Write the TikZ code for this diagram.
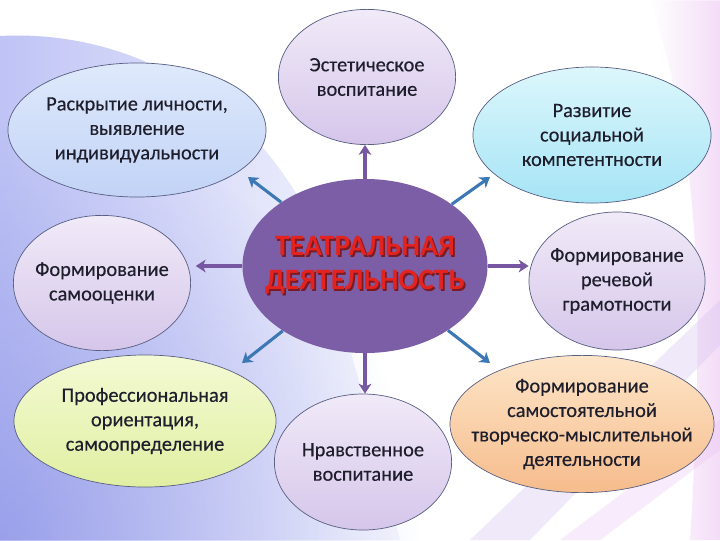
\documentclass[tikz,border=0pt]{standalone}
\usepackage{fontspec}
\setmainfont{Carlito}
\newfontfamily\bubblefont[FakeBold=0.35]{Carlito}
\usepackage{xcolor}
\usetikzlibrary{shapes,arrows,positioning,calc,arrows.meta,fadings}

\definecolor{bgblue}{HTML}{A0A7F0}
\definecolor{bgdeep}{HTML}{7C84E2}
\definecolor{bgpink}{HTML}{EBC0F2}
\definecolor{bglilac}{HTML}{D6C2F0}
\definecolor{rimline}{HTML}{585E82}
\definecolor{txtdark}{HTML}{1E1E2C}
\definecolor{lilacA}{HTML}{F1EAF8}
\definecolor{lilacB}{HTML}{D5C6EA}
\definecolor{blueA}{HTML}{DEE9FB}
\definecolor{blueB}{HTML}{C2D3F6}
\definecolor{cyanA}{HTML}{DCF7FC}
\definecolor{cyanB}{HTML}{A6E4F5}
\definecolor{limeA}{HTML}{F4FAD4}
\definecolor{limeB}{HTML}{E0EFA2}
\definecolor{peachA}{HTML}{FDE5C8}
\definecolor{peachB}{HTML}{F6BC8C}
\definecolor{corepurple}{HTML}{7B5EA5}
\definecolor{corered}{HTML}{E3231F}
\definecolor{coreshadow}{HTML}{7A1A22}
\definecolor{arrowpurple}{HTML}{7757A1}
\definecolor{arrowblue}{HTML}{3C78B4}

\pgfdeclarehorizontalshading{leftglow}{100bp}{color(0bp)=(bgblue); color(35bp)=(bgblue!55!white); color(70bp)=(bgblue!15!white); color(100bp)=(white)}
\tikzfading[name=cornerfade, inner color=transparent!0, outer color=transparent!100]

\newcommand{\redshadow}[1]{\rlap{\kern1.2pt\raisebox{-1.2pt}{\textcolor{coreshadow}{#1}}}\textcolor{corered}{#1}}

\tikzset{
  bubble/.style={ellipse, draw=rimline, line width=0.5pt, inner xsep=-0.8cm, inner ysep=-0.2cm,
    align=center, text=txtdark, font=\bubblefont\fontsize{14.5}{17.4}\selectfont},
  lilacfill/.style={top color=lilacA, bottom color=lilacB},
  bluefill/.style={top color=blueA, bottom color=blueB},
  cyanfill/.style={top color=cyanA, bottom color=cyanB},
  limefill/.style={top color=limeA, bottom color=limeB},
  peachfill/.style={top color=peachA, bottom color=peachB},
  parrow/.style={draw=arrowpurple, line width=2.2pt, -{Stealth[length=7pt,width=9pt,inset=2pt]}},
  barrow/.style={draw=arrowblue, line width=2.2pt, -{Stealth[length=7pt,width=9pt,inset=2pt]}}
}

\begin{document}
\begin{tikzpicture}[x=0.025cm, y=-0.025cm]
    % Background
    \useasboundingbox (0,0) rectangle (720,540);
    \fill[white] (0,0) rectangle (720,540);
    \shade[shading=leftglow] (0,36) .. controls (110,30) and (230,80) .. (300,200) .. controls (340,300) and (370,420) .. (400,540) -- (0,540) -- cycle;
    \fill[bgdeep, opacity=0.55, path fading=cornerfade] (0,540) circle (420);
    \fill[bgpink, opacity=0.55, path fading=west] (650,0) .. controls (700,150) and (705,300) .. (690,540) -- (720,540) -- (720,0) -- cycle;
    \fill[bglilac, opacity=0.35] (470,540) -- (720,300) -- (720,345) -- (530,540) -- cycle;
    \fill[bgpink, opacity=0.3] (560,540) -- (720,420) -- (720,450) -- (600,540) -- cycle;

    % Outer bubbles
    \node[bubble, bluefill, minimum width=6.45cm, minimum height=3.35cm] (lichnost) at (137,130) {Раскрытие личности,\\выявление\\индивидуальности};
    \node[bubble, lilacfill, minimum width=4.43cm, minimum height=3.38cm] (estetika) at (367,77) {Эстетическое\\воспитание};
    \node[bubble, cyanfill, minimum width=5.95cm, minimum height=3.4cm] (socium) at (592,135) {Развитие\\социальной\\компетентности};
    \node[bubble, lilacfill, minimum width=4.43cm, minimum height=3.38cm] (samoocenka) at (102,283) {Формирование\\самооценки};
    \node[bubble, lilacfill, minimum width=4.4cm, minimum height=3.45cm] (rech) at (617,281) {Формирование\\речевой\\грамотности};
    \node[bubble, limefill, minimum width=6.55cm, minimum height=3.3cm] (proforient) at (145,421) {Профессиональная\\ориентация,\\самоопределение};
    \node[bubble, lilacfill, minimum width=4.43cm, minimum height=3.4cm] (nravstv) at (363,462) {Нравственное\\воспитание};
    \node[bubble, peachfill, minimum width=6.6cm, minimum height=3.43cm] (tvorchestvo) at (582,424) {Формирование\\самостоятельной\\творческо-мыслительной\\деятельности};

    % Centre
    \node[ellipse, fill=corepurple, minimum width=6.125cm, minimum height=4.35cm, inner xsep=-1cm, inner ysep=0pt,
      align=center, font=\fontsize{21}{24}\selectfont\bfseries] (teatr) at (365,266) {\redshadow{ТЕАТРАЛЬНАЯ}\\\redshadow{ДЕЯТЕЛЬНОСТЬ}};

    % Arrows
    \coordinate (ulTip) at (248,177);
    \coordinate (urTip) at (490,177);
    \coordinate (llTip) at (242,363);
    \coordinate (lrTip) at (490,363);
    \draw[parrow] (teatr.north) -- (teatr.north |- estetika.south);
    \draw[parrow] (teatr.south) -- (teatr.south |- nravstv.north);
    \draw[parrow, shorten >=0.12cm] (teatr.west) -- (teatr.west -| samoocenka.east);
    \draw[parrow] (teatr.east) -- (teatr.east -| rech.west);
    \draw[barrow] (teatr) -- (ulTip);
    \draw[barrow] (teatr) -- (urTip);
    \draw[barrow] (teatr) -- (llTip);
    \draw[barrow] (teatr) -- (lrTip);
\end{tikzpicture}
\end{document}
